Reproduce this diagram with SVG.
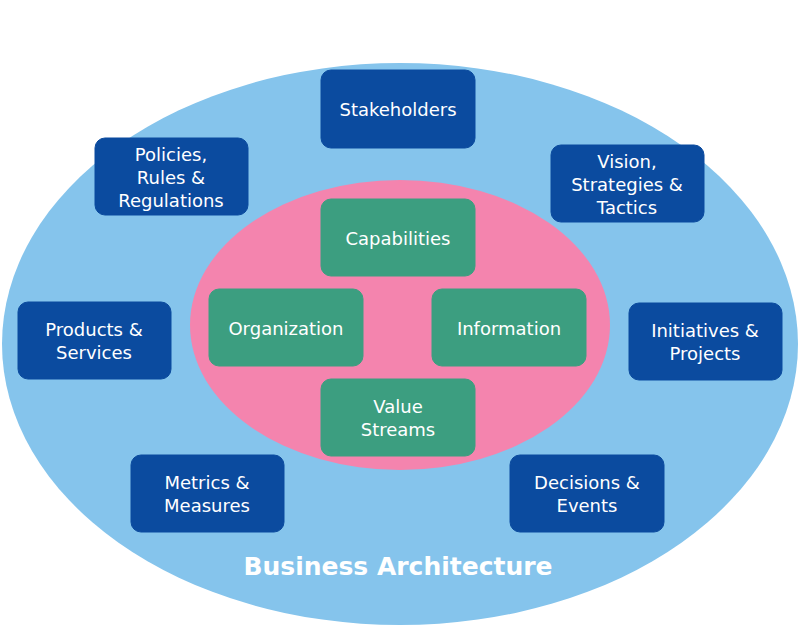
<svg xmlns="http://www.w3.org/2000/svg" width="800" height="629" viewBox="0 0 800 629">
<style>
.b{fill:#0B4B9F;stroke:#0B4B9F}
.g{fill:#3C9E80;stroke:#3C9E80}
text{font-family:"DejaVu Sans",Verdana,sans-serif;font-size:18px;fill:#fff;text-anchor:middle}
</style>
<rect width="800" height="629" fill="#fff"/>
<ellipse cx="400" cy="344" rx="398" ry="281" fill="#85C4EC"/>
<ellipse cx="400" cy="325" rx="210" ry="145" fill="#F484AE"/>
<g id="stakeholders"><rect class="b" x="321" y="70" width="154" height="78" rx="10"/><text x="398" y="116">Stakeholders</text></g>
<g id="policies"><rect class="b" x="95" y="138" width="153" height="77" rx="10"/><text x="171" y="161">Policies,</text><text x="171" y="184">Rules &amp;</text><text x="171" y="207">Regulations</text></g>
<g id="vision"><rect class="b" x="551" y="145" width="153" height="77" rx="10"/><text x="627" y="168">Vision,</text><text x="627" y="191">Strategies &amp;</text><text x="627" y="214">Tactics</text></g>
<g id="products"><rect class="b" x="18" y="302" width="153" height="77" rx="10"/><text x="94" y="336">Products &amp;</text><text x="94" y="359">Services</text></g>
<g id="initiatives"><rect class="b" x="629" y="303" width="153" height="77" rx="10"/><text x="705" y="337">Initiatives &amp;</text><text x="705" y="360">Projects</text></g>
<g id="metrics"><rect class="b" x="131" y="455" width="153" height="77" rx="10"/><text x="207" y="489">Metrics &amp;</text><text x="207" y="512">Measures</text></g>
<g id="decisions"><rect class="b" x="510" y="455" width="154" height="77" rx="10"/><text x="587" y="489">Decisions &amp;</text><text x="587" y="512">Events</text></g>
<g id="capabilities"><rect class="g" x="321" y="199" width="154" height="77" rx="10"/><text x="398" y="245">Capabilities</text></g>
<g id="organization"><rect class="g" x="209" y="289" width="154" height="77" rx="10"/><text x="286" y="335">Organization</text></g>
<g id="information"><rect class="g" x="432" y="289" width="154" height="77" rx="10"/><text x="509" y="335">Information</text></g>
<g id="valuestreams"><rect class="g" x="321" y="379" width="154" height="77" rx="10"/><text x="398" y="413">Value</text><text x="398" y="436">Streams</text></g>
<g id="connectors"></g>
<text x="398" y="575" style="font-size:25px;font-weight:bold">Business Architecture</text>
</svg>
